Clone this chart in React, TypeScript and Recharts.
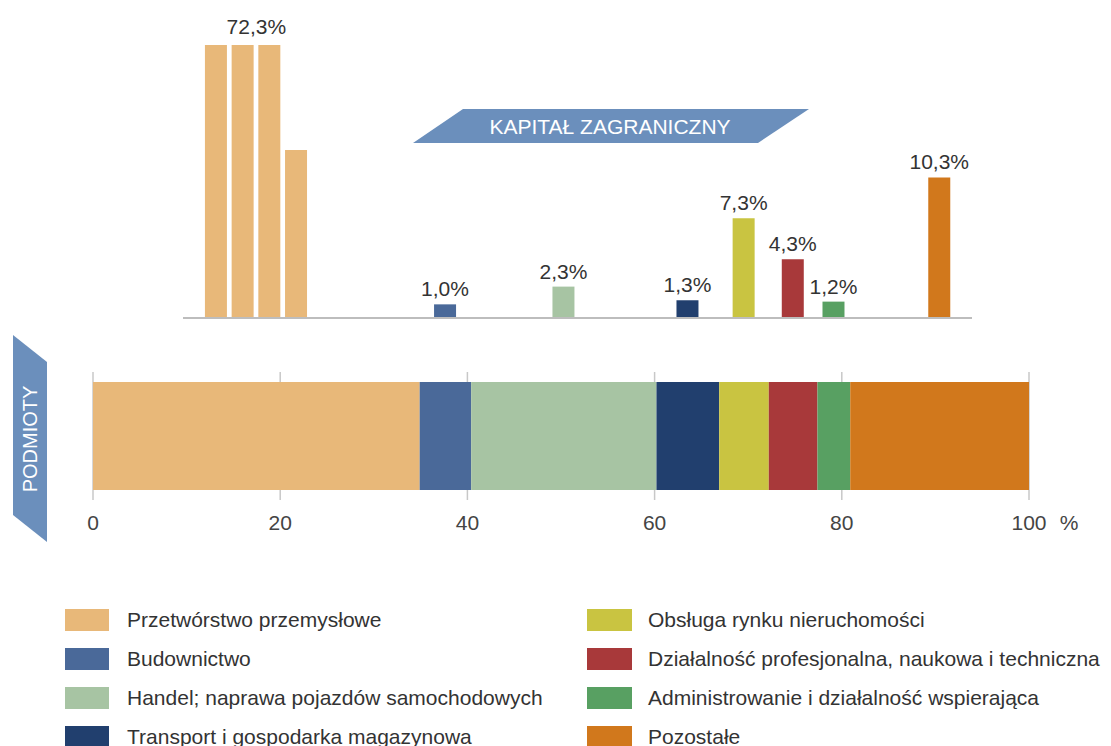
import React from 'react';
import {
  BarChart,
  Bar,
  XAxis,
  YAxis,
  Cell,
  ReferenceLine,
  ReferenceDot,
  CartesianGrid,
  LabelList,
} from 'recharts';

// ---------- DATA ----------
const sectors = [
  'Przetwórstwo przemysłowe',
  'Budownictwo',
  'Handel; naprawa pojazdów samochodowych',
  'Transport i gospodarka magazynowa',
  'Obsługa rynku nieruchomości',
  'Działalność profesjonalna, naukowa i techniczna',
  'Administrowanie i działalność wspierająca',
  'Pozostałe',
];
const sectorColors = [
  '#e8b879',
  '#4a6999',
  '#a7c4a3',
  '#213f6e',
  '#c9c441',
  '#a8393a',
  '#58a062',
  '#d1781c',
];
// share of entities (PODMIOTY), %
const entityShares = [34.9, 5.5, 19.8, 6.7, 5.3, 5.2, 3.5, 19.1];
// share of foreign capital (KAPITAŁ ZAGRANICZNY), %
const capitalShares = [72.3, 1.0, 2.3, 1.3, 7.3, 4.3, 1.2, 10.3];
const xTicks = [0, 20, 40, 60, 80, 100];
const capitalTitle = 'KAPITAŁ ZAGRANICZNY';
const entitiesTitle = 'PODMIOTY';
const unitLabel = '%';

// ---------- LAYOUT ----------
const W = 1111;
const H = 746;
const PLOT_LEFT = 93;
const PLOT_RIGHT = 1029;
const PLOT_W = PLOT_RIGHT - PLOT_LEFT;
const CAP = 20; // broken-bar piece size
const TOP_BAR_PX = 22;
const TOP_PITCH = ((TOP_BAR_PX + 4.7) / PLOT_W) * 100;
const FONT = "'Liberation Sans', Arial, Helvetica, sans-serif";
const BANNER = '#6b8fbc';
const TEXT = '#333333';

const fmt = (v: number) => v.toFixed(1).replace('.', ',') + '%';

// cumulative positions of the entity segments
const cum: number[] = [];
entityShares.reduce((acc, s, i) => {
  cum[i] = acc;
  return acc + s;
}, 0);
const centers = entityShares.map((s, i) => cum[i] + s / 2);

type TopBar = { x: number; v: number; fill: string; label: string };
const topBars: TopBar[] = [];
const brokenLabels: { x: number; label: string }[] = [];
capitalShares.forEach((val, i) => {
  if (val <= CAP) {
    topBars.push({ x: centers[i], v: val, fill: sectorColors[i], label: fmt(val) });
  } else {
    const n = Math.ceil(val / CAP);
    for (let k = 0; k < n; k++) {
      topBars.push({
        x: centers[i] + (k - (n - 1) / 2) * TOP_PITCH,
        v: Math.min(CAP, +(val - k * CAP).toFixed(1)),
        fill: sectorColors[i],
        label: '',
      });
    }
    brokenLabels.push({ x: centers[i], label: fmt(val) });
  }
});

const entityRow: Record<string, any> = { name: 'Podmioty' };
entityShares.forEach((s, i) => {
  entityRow['s' + i] = s;
});
const entityData = [entityRow];

const AxisTick = (props: any) => {
  const { x, y, payload } = props;
  return (
    <g>
      <text x={x} y={y} dy="0.71em" textAnchor="middle" fill="#444" fontSize={21}>
        {payload.value}
      </text>
      {payload.value === 100 && (
        <text x={x + 40} y={y} dy="0.71em" textAnchor="middle" fill="#444" fontSize={21}>
          {unitLabel}
        </text>
      )}
    </g>
  );
};

export default function App() {
  const leftAxisPct = ((183 - PLOT_LEFT) / PLOT_W) * 100;
  const rightAxisPct = ((972 - PLOT_LEFT) / PLOT_W) * 100;
  return (
    <div
      style={{
        position: 'absolute',
        left: 0,
        top: 0,
        width: W,
        height: H,
        overflow: 'hidden',
        background: '#fff',
        fontFamily: FONT,
      }}
    >
      {/* Top: foreign capital */}
      <div style={{ position: 'absolute', left: 0, top: 0 }}>
        <BarChart
          width={W}
          height={340}
          data={topBars}
          margin={{ top: 45, right: W - PLOT_RIGHT, bottom: 22, left: PLOT_LEFT }}
        >
          <XAxis type="number" dataKey="x" domain={[0, 100]} hide />
          <YAxis type="number" domain={[0, CAP]} hide allowDataOverflow />
          <Bar dataKey="v" barSize={TOP_BAR_PX} isAnimationActive={false}>
            {topBars.map((b, i) => (
              <Cell key={i} fill={b.fill} />
            ))}
            <LabelList
              dataKey="label"
              position="top"
              offset={8}
              fill={TEXT}
              fontSize={21}
            />
          </Bar>
          <ReferenceLine
            segment={[
              { x: leftAxisPct, y: 0 },
              { x: rightAxisPct, y: 0 },
            ]}
            stroke="#bdbdbd"
            strokeWidth={2}
            ifOverflow="visible"
          />
          {brokenLabels.map((b, i) => (
            <ReferenceDot
              key={i}
              x={b.x}
              y={CAP}
              r={0}
              fill="none"
              stroke="none"
              ifOverflow="visible"
              label={{ value: b.label, position: 'top', offset: 11, fill: TEXT, fontSize: 21 }}
            />
          ))}
        </BarChart>
      </div>

      {/* Bottom: entities */}
      <div style={{ position: 'absolute', left: 0, top: 340 }}>
        <BarChart
          width={W}
          height={210}
          layout="vertical"
          data={entityData}
          barCategoryGap={10}
          margin={{ top: 32, right: W - PLOT_RIGHT, bottom: 10, left: PLOT_LEFT }}
        >
          <CartesianGrid horizontal={false} stroke="#c8c8c8" strokeWidth={1.5} />
          <XAxis
            type="number"
            domain={[0, 100]}
            ticks={xTicks}
            axisLine={false}
            tickLine={false}
            tickSize={6}
            tickMargin={9}
            height={40}
            tick={<AxisTick />}
            interval={0}
          />
          <YAxis type="category" dataKey="name" hide />
          {sectors.map((s, i) => (
            <Bar
              key={s}
              name={s}
              dataKey={'s' + i}
              stackId="a"
              fill={sectorColors[i]}
              isAnimationActive={false}
            />
          ))}
        </BarChart>
      </div>

      {/* Banners */}
      <svg
        width={W}
        height={H}
        style={{ position: 'absolute', left: 0, top: 0, pointerEvents: 'none' }}
      >
        <polygon points="463,109 809,109 758,143 413,143" fill={BANNER} />
        <text
          x={610}
          y={126}
          textAnchor="middle"
          dominantBaseline="central"
          fill="#fff"
          fontSize={21}
          fontFamily={FONT}
        >
          {capitalTitle}
        </text>
        <polygon points="13,335 47,362 47,542 13,515" fill={BANNER} />
        <text
          x={30}
          y={439}
          transform="rotate(-90 30 439)"
          textAnchor="middle"
          dominantBaseline="central"
          fill="#fff"
          fontSize={20}
          fontFamily={FONT}
        >
          {entitiesTitle}
        </text>
      </svg>

      {/* Legend */}
      {sectors.map((s, i) => {
        const col = i < 4 ? 0 : 1;
        const row = i % 4;
        const left = col === 0 ? 65 : 587;
        const top = 609 + row * 39;
        return (
          <div
            key={s}
            style={{
              position: 'absolute',
              left,
              top,
              height: 22,
              display: 'flex',
              alignItems: 'center',
              whiteSpace: 'nowrap',
            }}
          >
            <div
              style={{
                width: col === 0 ? 44 : 45,
                height: 22,
                background: sectorColors[i],
                marginRight: col === 0 ? 18 : 16,
                flex: 'none',
              }}
            />
            <span style={{ fontSize: 21, color: TEXT, lineHeight: '22px' }}>{s}</span>
          </div>
        );
      })}
    </div>
  );
}
